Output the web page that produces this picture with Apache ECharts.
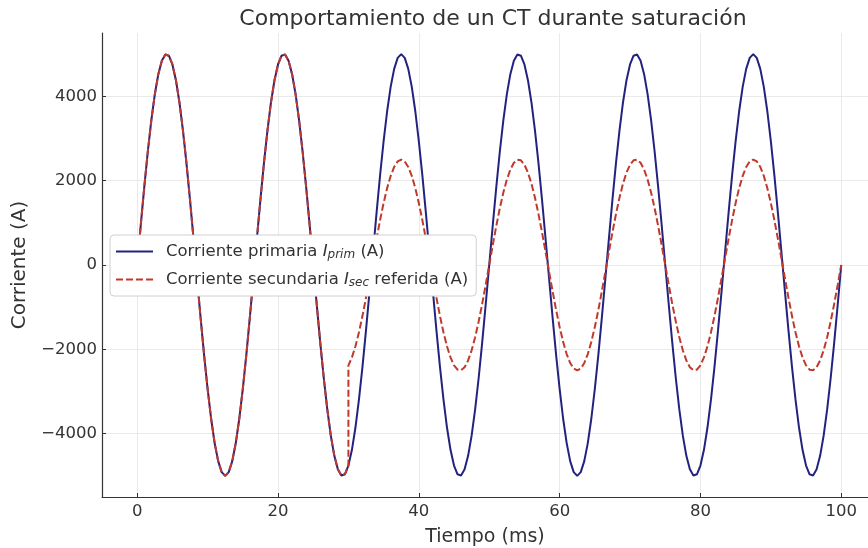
<!DOCTYPE html>
<html>
<head>
<meta charset="utf-8">
<script src="https://cdn.jsdelivr.net/npm/echarts@6/dist/echarts.min.js"></script>
<style>
html,body{margin:0;padding:0;background:#fff;}
#chart{width:868px;height:548px;}
</style>
</head>
<body>
<div id="chart"></div>
<script>
// Sampling grid: time in ms, 0.5 ms steps from 0 to 100
const timeMs = Array.from({length: 201}, (_, i) => i * 0.5);

// Primary current (A), one value per time sample
const primaryCurrent = [
0,937,1841,2679,3423,4045,4524,4843,4990,4961,4755,4382,3853,3187,2409,1545,627,-314,-1243,-2129,-2939,-3645,-4222,-4649,-4911,-5000,-4911,-4649,-4222,-3645,-2939,-2129,-1243,-314,627,1545,2409,3187,3853,4382,4755,4961,4990,4843,4524,4045,3423,2679,1841,937,
0,-937,-1841,-2679,-3423,-4045,-4524,-4843,-4990,-4961,-4755,-4382,-3853,-3187,-2409,-1545,-627,314,1243,2129,2939,3645,4222,4649,4911,5000,4911,4649,4222,3645,2939,2129,1243,314,-627,-1545,-2409,-3187,-3853,-4382,-4755,-4961,-4990,-4843,-4524,-4045,-3423,-2679,-1841,-937,
0,937,1841,2679,3423,4045,4524,4843,4990,4961,4755,4382,3853,3187,2409,1545,627,-314,-1243,-2129,-2939,-3645,-4222,-4649,-4911,-5000,-4911,-4649,-4222,-3645,-2939,-2129,-1243,-314,627,1545,2409,3187,3853,4382,4755,4961,4990,4843,4524,4045,3423,2679,1841,937,
0,-937,-1841,-2679,-3423,-4045,-4524,-4843,-4990,-4961,-4755,-4382,-3853,-3187,-2409,-1545,-627,314,1243,2129,2939,3645,4222,4649,4911,5000,4911,4649,4222,3645,2939,2129,1243,314,-627,-1545,-2409,-3187,-3853,-4382,-4755,-4961,-4990,-4843,-4524,-4045,-3423,-2679,-1841,-937,
0
];

// Secondary current referred (A): time samples (the saturation jump at 30 ms has two samples)
const saturationTimeMs = 30;
const secondaryTime = timeMs.slice(0, 61).concat([saturationTimeMs], timeMs.slice(61));
const secondaryCurrent = [
0,937,1841,2679,3423,4045,4524,4843,4990,4961,4755,4382,3853,3187,2409,1545,627,-314,-1243,-2129,-2939,-3645,-4222,-4649,-4911,-5000,-4911,-4649,-4222,-3645,-2939,-2129,-1243,-314,627,1545,2409,3187,3853,4382,4755,4961,4990,4843,4524,4045,3423,2679,1841,937,
0,-937,-1841,-2679,-3423,-4045,-4524,-4843,-4990,-4961,-4755,
-2378,
-2191,-1927,-1594,-1205,-773,-314,157,622,1065,1470,1823,2111,2325,2456,2500,2456,2325,2111,1823,1470,1065,622,157,-314,-773,-1205,-1594,-1927,-2191,-2378,-2481,-2495,-2422,-2262,-2023,-1712,-1340,-921,-469,
0,469,921,1340,1712,2023,2262,2422,2495,2481,2378,2191,1927,1594,1205,773,314,-157,-622,-1065,-1470,-1823,-2111,-2325,-2456,-2500,-2456,-2325,-2111,-1823,-1470,-1065,-622,-157,314,773,1205,1594,1927,2191,2378,2481,2495,2422,2262,2023,1712,1340,921,469,
0,-469,-921,-1340,-1712,-2023,-2262,-2422,-2495,-2481,-2378,-2191,-1927,-1594,-1205,-773,-314,157,622,1065,1470,1823,2111,2325,2456,2500,2456,2325,2111,1823,1470,1065,622,157,-314,-773,-1205,-1594,-1927,-2191,-2378,-2481,-2495,-2422,-2262,-2023,-1712,-1340,-921,-469,
0
];

const xTicks = [0, 20, 40, 60, 80, 100];
const yTicks = [-4000, -2000, 0, 2000, 4000];

const titleText = 'Comportamiento de un CT durante saturación';
const xName = 'Tiempo (ms)';
const yName = 'Corriente (A)';
const primaryName = 'primaria';
const secondaryName = 'secundaria';

const FONT = 'DejaVu Sans';
const TEXT = '#333333';
const chart = echarts.init(document.getElementById('chart'), null, {renderer: 'canvas'});

const pair = (xs, ys) => xs.map((x, i) => [x, ys[i]]);

chart.setOption({
  animation: false,
  backgroundColor: '#ffffff',
  title: {
    text: titleText,
    left: 488, top: 3, textAlign: 'center',
    textStyle: {fontFamily: FONT, fontSize: 22, fontWeight: 'normal', color: TEXT}
  },
  grid: {left: 102, right: 0, top: 33, bottom: 51, containLabel: false, outerBoundsMode: 'none'},
  legend: {
    orient: 'vertical', left: 110, top: 235,
    backgroundColor: '#ffffff', borderColor: '#d0d0d0', borderWidth: 1, borderRadius: 4,
    padding: [8, 8, 7, 5], itemGap: 10, itemWidth: 37, itemHeight: 16,
    itemStyle: {opacity: 0},
    data: [primaryName, secondaryName],
    formatter: function (name) {
      if (name === primaryName) return 'Corriente primaria {i|I}{s|prim} (A)';
      return 'Corriente secundaria {i|I}{s|sec} referida (A)';
    },
    textStyle: {
      fontFamily: FONT, fontSize: 16.5, color: TEXT, padding: [0, 0, 0, 8],
      rich: {
        i: {fontFamily: FONT, fontSize: 16.5, fontStyle: 'italic', color: TEXT},
        s: {fontFamily: FONT, fontSize: 12, fontStyle: 'italic', color: TEXT, padding: [7, 0, 0, 0]}
      }
    }
  },
  xAxis: {
    // the reference plot area runs past the right edge of the picture
    type: 'value', min: -5, max: 103.8,
    name: xName, nameLocation: 'middle', nameGap: 31,
    nameTextStyle: {fontFamily: FONT, fontSize: 19, color: TEXT},
    axisLine: {show: true, onZero: false, lineStyle: {color: TEXT, width: 1.2}},
    axisTick: {show: true, inside: true, length: 4, customValues: xTicks, lineStyle: {color: TEXT}},
    axisLabel: {customValues: xTicks, fontFamily: FONT, fontSize: 16.5, color: TEXT, margin: 6},
    splitLine: {show: true, lineStyle: {color: '#e4e4e4', width: 0.8}}
  },
  yAxis: {
    type: 'value', min: -5500, max: 5500,
    name: yName, nameLocation: 'middle', nameGap: 62, nameRotate: 90,
    nameTextStyle: {fontFamily: FONT, fontSize: 20, color: TEXT},
    axisLine: {show: true, onZero: false, lineStyle: {color: TEXT, width: 1.2}},
    axisTick: {show: true, inside: true, length: 4, customValues: yTicks, lineStyle: {color: TEXT}},
    axisLabel: {customValues: yTicks, fontFamily: FONT, fontSize: 16.5, color: TEXT, margin: 5,
      formatter: v => (v < 0 ? '\u2212' + Math.abs(v) : String(v))},
    splitLine: {show: true, lineStyle: {color: '#e4e4e4', width: 0.8}}
  },
  series: [
    {
      name: primaryName, type: 'line', showSymbol: false, symbol: 'none',
      data: pair(timeMs, primaryCurrent),
      lineStyle: {color: '#23237f', width: 2},
      itemStyle: {color: '#23237f'},
      z: 2
    },
    {
      name: secondaryName, type: 'line', showSymbol: false, symbol: 'none',
      data: pair(secondaryTime, secondaryCurrent),
      lineStyle: {color: '#c0392b', width: 2, type: [7, 3]},
      itemStyle: {color: '#c0392b'},
      z: 3
    }
  ]
});
</script>
</body>
</html>
